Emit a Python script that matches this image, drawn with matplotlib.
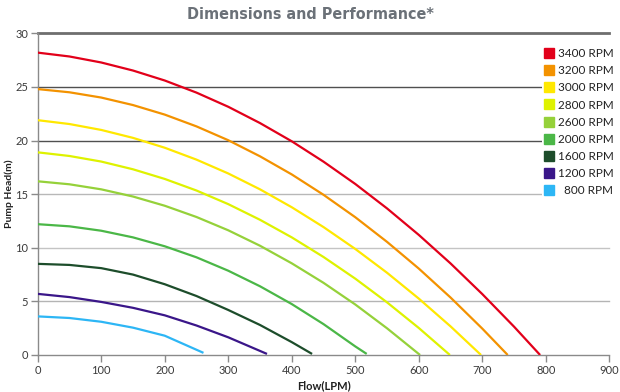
import matplotlib
matplotlib.use("Agg")
import matplotlib.pyplot as plt
from matplotlib.lines import Line2D

plt.rcParams['font.family'] = ['Lato', 'DejaVu Sans']

# ---- data ----
labels = ["3400 RPM", "3200 RPM", "3000 RPM", "2800 RPM", "2600 RPM",
          "2000 RPM", "1600 RPM", "1200 RPM", "  800 RPM"]
colors = ["#e2001a", "#f39200", "#ffe800", "#def200", "#95d13a",
          "#4bb747", "#1d4d2b", "#3a1689", "#2db6f5"]

q3400 = [0, 50, 100, 150, 200, 250, 300, 350, 400, 450, 500, 550, 600, 650, 700, 750, 791]
h3400 = [28.2, 27.84, 27.28, 26.53, 25.6, 24.47, 23.15, 21.63, 19.93, 18.03, 15.95, 13.67, 11.2, 8.54, 5.68, 2.64, 0.0]

q3200 = [0, 50, 100, 150, 200, 250, 300, 350, 400, 450, 500, 550, 600, 650, 700, 740]
h3200 = [24.8, 24.5, 24.01, 23.31, 22.42, 21.32, 20.03, 18.53, 16.84, 14.94, 12.85, 10.55, 8.06, 5.36, 2.46, 0.0]

q3000 = [0, 50, 100, 150, 200, 250, 300, 350, 400, 450, 500, 550, 600, 650, 698]
h3000 = [21.9, 21.54, 20.99, 20.25, 19.33, 18.22, 16.93, 15.45, 13.78, 11.93, 9.89, 7.67, 5.26, 2.67, 0.0]

q2800 = [0, 50, 100, 150, 200, 250, 300, 350, 400, 450, 500, 550, 600, 649]
h2800 = [18.9, 18.56, 18.04, 17.32, 16.42, 15.34, 14.07, 12.61, 10.97, 9.14, 7.12, 4.91, 2.52, 0.0]

q2600 = [0, 50, 100, 150, 200, 250, 300, 350, 400, 450, 500, 550, 602]
h2600 = [16.2, 15.92, 15.45, 14.78, 13.92, 12.87, 11.63, 10.19, 8.55, 6.73, 4.71, 2.49, 0.0]

q2000 = [0, 50, 100, 150, 200, 250, 300, 350, 400, 450, 500, 518]
h2000 = [12.2, 12.0, 11.59, 10.97, 10.14, 9.11, 7.86, 6.41, 4.75, 2.88, 0.8, 0.1]

q1600 = [0, 50, 100, 150, 200, 250, 300, 350, 400, 432]
h1600 = [8.5, 8.4, 8.1, 7.5, 6.6, 5.5, 4.2, 2.8, 1.2, 0.1]

q1200 = [0, 50, 100, 150, 200, 250, 300, 361]
h1200 = [5.7, 5.4, 4.95, 4.4, 3.7, 2.75, 1.65, 0.1]

q800 = [0, 50, 100, 150, 200, 261]
h800 = [3.6, 3.45, 3.1, 2.55, 1.8, 0.2]

flows = [q3400, q3200, q3000, q2800, q2600, q2000, q1600, q1200, q800]
heads = [h3400, h3200, h3000, h2800, h2600, h2000, h1600, h1200, h800]

x_ticks = [0, 100, 200, 300, 400, 500, 600, 700, 800, 900]
y_ticks = [0, 5, 10, 15, 20, 25, 30]

# ---- figure ----
fig = plt.figure(figsize=(6.2, 3.92), dpi=100)
ax = fig.add_axes([0.0608, 0.0944, 0.922, 0.8206])

grid_colors = {5: "#b4b4b4", 10: "#c4c4c4", 15: "#b8b8b8",
               20: "#505050", 25: "#505050", 30: "#6e6e6e"}
for yv, c in grid_colors.items():
    lw = 2.0 if yv == 30 else 1.0
    ax.axhline(yv, color=c, lw=lw, zorder=1, clip_on=False)

for q, h, c, lab in zip(flows, heads, colors, labels):
    ax.plot(q, h, color=c, lw=1.6, zorder=3, solid_capstyle='butt')

ax.set_xlim(0, 900)
ax.set_ylim(0, 30)
ax.set_xticks(x_ticks)
ax.set_yticks(y_ticks)
ax.tick_params(axis='both', direction='out', length=5, width=1,
               color="#8a8a8a", labelsize=8, labelcolor="#3a3a3a", pad=2)
for s in ['top', 'right']:
    ax.spines[s].set_visible(False)
for s in ['left', 'bottom']:
    ax.spines[s].set_color("#8a8a8a")
    ax.spines[s].set_linewidth(1)

ax.set_xlabel("Flow(LPM)", fontsize=8, fontweight='bold', color="#222222", labelpad=3)
ax.set_ylabel("Pump Head(m)", fontsize=7.5, fontweight='bold', color="#222222")
ax.yaxis.set_label_coords(-0.042, 0.5)

handles = [Line2D([], [], marker='s', linestyle='none', markersize=7,
                  markerfacecolor=c, markeredgecolor=c) for c in colors]
leg = ax.legend(handles, labels, loc='upper right', bbox_to_anchor=(1.015, 0.965),
                fontsize=8.5, frameon=True, framealpha=1, facecolor='white',
                edgecolor='none', handlelength=0.6, handletextpad=0.5,
                labelspacing=0.52, borderpad=0.3, borderaxespad=0.0)
leg.set_zorder(5)
for t in leg.get_texts():
    t.set_color("#222222")

fig.text(0.5, 0.962, "Dimensions and Performance*", ha='center', va='center',
         fontsize=11.5, fontweight='bold', color="#6b7178",
         family=['DejaVu Sans'], fontstretch='condensed')

fig.savefig("out.png", dpi=100)
